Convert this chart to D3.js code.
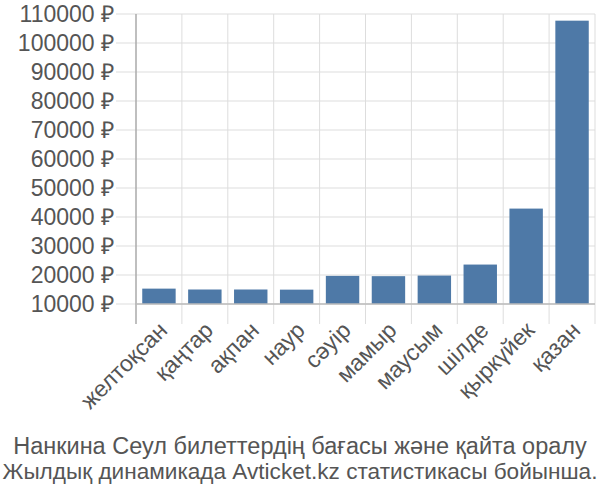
<!DOCTYPE html>
<html>
<head>
<meta charset="utf-8">
<script src="https://cdn.jsdelivr.net/npm/d3@7"></script>
<style>
  body { margin: 0; background: #fff; }
  svg { display: block; font-family: "Liberation Sans", Arial, sans-serif; }
</style>
</head>
<body>
<svg id="chart" width="600" height="500"></svg>
<script>
// data
const months = ["желтоқсан", "қаңтар", "ақпан", "наур", "сәуір", "мамыр", "маусым", "шілде", "қыркүйек", "қазан"];
const prices = [15300, 15000, 15000, 14950, 19700, 19600, 19800, 23600, 42900, 107700];
const yTicks = [10000, 20000, 30000, 40000, 50000, 60000, 70000, 80000, 90000, 100000, 110000];
const titleLines = ["Нанкина Сеул билеттердің бағасы және қайта оралу", "Жылдық динамикада Avticket.kz статистикасы бойынша."];

const svg = d3.select("#chart");
const margin = { top: 14, right: 5, bottom: 196, left: 136 };
const width = 600, height = 500;
const innerW = width - margin.left - margin.right;
const innerH = height - margin.top - margin.bottom;
const tickLen = 20;

const x = d3.scaleBand().domain(months).range([0, innerW]).padding(0);
const y = d3.scaleLinear().domain([10000, 110000]).range([innerH, 0]);

const g = svg.append("g").attr("transform", `translate(${margin.left},${margin.top})`);

// horizontal grid + y ticks
g.selectAll(".hgrid")
  .data(yTicks)
  .enter()
  .append("line")
  .attr("x1", -tickLen)
  .attr("x2", innerW)
  .attr("y1", d => y(d))
  .attr("y2", d => y(d))
  .attr("stroke", "#dddddd")
  .attr("stroke-width", 1);

// vertical grid (band edges)
g.selectAll(".vgrid")
  .data(months)
  .enter()
  .append("line")
  .attr("x1", d => x(d) + x.step())
  .attr("x2", d => x(d) + x.step())
  .attr("y1", 0)
  .attr("y2", innerH + tickLen)
  .attr("stroke", "#dddddd")
  .attr("stroke-width", 1);

// bars
const barW = x.bandwidth() * 0.728;
g.selectAll("rect")
  .data(prices)
  .enter()
  .append("rect")
  .attr("x", (d, i) => x(months[i]) + (x.bandwidth() - barW) / 2)
  .attr("y", d => y(d))
  .attr("width", barW)
  .attr("height", d => innerH - y(d))
  .attr("fill", "#4e79a7");

// axes lines
g.append("line")
  .attr("x1", 0).attr("x2", 0)
  .attr("y1", 0).attr("y2", innerH + tickLen)
  .attr("stroke", "#aaaaaa").attr("stroke-width", 1.5);
g.append("line")
  .attr("x1", 0).attr("x2", innerW)
  .attr("y1", innerH).attr("y2", innerH)
  .attr("stroke", "#bbbbbb").attr("stroke-width", 1.5);

// y labels
g.selectAll(".ylab")
  .data(yTicks)
  .enter()
  .append("text")
  .attr("x", -tickLen - 2)
  .attr("y", d => y(d))
  .attr("dy", "0.35em")
  .attr("text-anchor", "end")
  .attr("fill", "#555555")
  .style("font-size", "23px")
  .text(d => d + " ₽");

// x labels
g.selectAll(".xlab")
  .data(months)
  .enter()
  .append("text")
  .attr("transform", d => `translate(${x(d) + x.bandwidth() / 2 + 4},${innerH + tickLen + 2}) rotate(-45)`)
  .attr("text-anchor", "end")
  .attr("dy", "0.35em")
  .attr("fill", "#555555")
  .style("font-size", "23px")
  .text(d => d);

// title
const titleSize = ["23.5px", "22.6px"];
svg.selectAll(".title")
  .data(titleLines)
  .enter()
  .append("text")
  .attr("x", width / 2)
  .attr("y", (d, i) => 454 + i * 25)
  .attr("text-anchor", "middle")
  .attr("fill", "#555555")
  .style("font-size", (d, i) => titleSize[i])
  .text(d => d);
</script>
</body>
</html>
